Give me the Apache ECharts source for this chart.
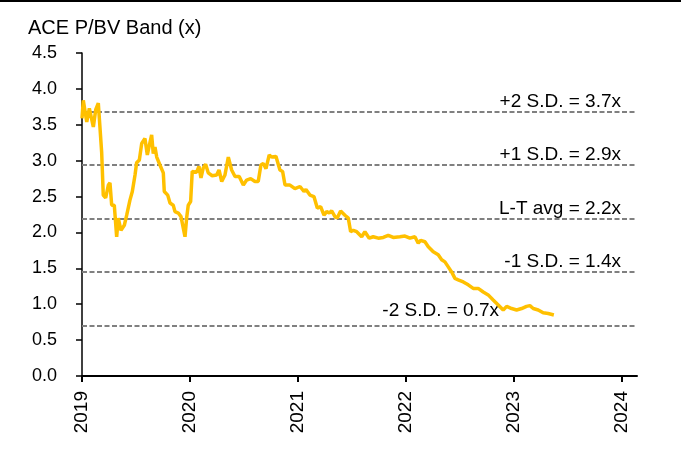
<!DOCTYPE html>
<html>
<head>
<meta charset="utf-8">
<script src="https://cdn.jsdelivr.net/npm/echarts@6/dist/echarts.min.js"></script>
<style>
  html, body { margin: 0; padding: 0; background: #fff; }
  #main { width: 681px; height: 465px; }
</style>
</head>
<body>
<div id="main"></div>
<script>
// 数据：时间（年，小数）与 P/BV
var years = [
  2019.000, 2019.012, 2019.044, 2019.068, 2019.105, 2019.127, 2019.151, 2019.167, 2019.182, 2019.197,
  2019.219, 2019.244, 2019.259, 2019.275, 2019.299, 2019.321, 2019.336, 2019.361, 2019.392, 2019.414,
  2019.444, 2019.466, 2019.491, 2019.506, 2019.531, 2019.553, 2019.583, 2019.605, 2019.620, 2019.645,
  2019.660, 2019.676, 2019.692, 2019.722, 2019.753, 2019.762, 2019.794, 2019.815, 2019.845, 2019.861,
  2019.892, 2019.917, 2019.938, 2019.954, 2019.969, 2019.984, 2020.006, 2020.021, 2020.062, 2020.083,
  2020.102, 2020.123, 2020.145, 2020.169, 2020.206, 2020.247, 2020.269, 2020.294, 2020.324, 2020.355,
  2020.386, 2020.417, 2020.456, 2020.494, 2020.525, 2020.562, 2020.602, 2020.632, 2020.657, 2020.679,
  2020.704, 2020.734, 2020.756, 2020.796, 2020.833, 2020.858, 2020.880, 2020.926, 2020.972, 2021.019,
  2021.056, 2021.074, 2021.111, 2021.148, 2021.179, 2021.210, 2021.241, 2021.266, 2021.290, 2021.312,
  2021.343, 2021.364, 2021.395, 2021.435, 2021.466, 2021.488, 2021.512, 2021.544, 2021.590, 2021.620,
  2021.660, 2021.697, 2021.744, 2021.790, 2021.836, 2021.882, 2021.944, 2021.991, 2022.037, 2022.083,
  2022.114, 2022.136, 2022.176, 2022.207, 2022.253, 2022.299, 2022.331, 2022.361, 2022.392, 2022.423,
  2022.454, 2022.484, 2022.531, 2022.577, 2022.623, 2022.669, 2022.716, 2022.762, 2022.808, 2022.855,
  2022.901, 2022.933, 2022.979, 2023.025, 2023.071, 2023.117, 2023.148, 2023.179, 2023.225, 2023.271,
  2023.318, 2023.370
];
var pbv = [
  3.59, 3.84, 3.54, 3.73, 3.47, 3.71, 3.80, 3.82, 3.12, 2.52,
  2.48, 2.66, 2.69, 2.38, 2.38, 1.94, 2.20, 2.03, 2.10, 2.24,
  2.45, 2.57, 2.80, 2.97, 3.01, 3.24, 3.31, 3.08, 3.19, 3.36,
  3.10, 3.19, 3.05, 2.94, 2.83, 2.57, 2.52, 2.41, 2.38, 2.29,
  2.27, 2.22, 2.06, 1.94, 2.20, 2.38, 2.43, 2.85, 2.84, 2.92,
  2.76, 2.90, 2.95, 2.83, 2.79, 2.80, 2.87, 2.71, 2.80, 3.05,
  2.87, 2.78, 2.78, 2.66, 2.73, 2.75, 2.71, 2.71, 2.94, 2.96,
  2.89, 3.08, 3.05, 3.06, 2.87, 2.85, 2.66, 2.66, 2.61, 2.64,
  2.57, 2.60, 2.52, 2.50, 2.34, 2.36, 2.24, 2.29, 2.27, 2.30,
  2.22, 2.20, 2.30, 2.24, 2.20, 2.01, 2.03, 2.01, 1.94, 2.01,
  1.92, 1.94, 1.92, 1.93, 1.96, 1.93, 1.94, 1.95, 1.92, 1.94,
  1.85, 1.89, 1.87, 1.80, 1.73, 1.69, 1.62, 1.59, 1.52, 1.45,
  1.36, 1.34, 1.31, 1.27, 1.22, 1.22, 1.17, 1.13, 1.06, 0.99,
  0.92, 0.97, 0.94, 0.92, 0.94, 0.97, 0.98, 0.94, 0.92, 0.88,
  0.87, 0.85
];

// 标准差带
var bandValues = [3.68, 2.935, 2.19, 1.445, 0.70];
var bandLabels = ['+2 S.D. = 3.7x', '+1 S.D. = 2.9x', 'L-T avg = 2.2x', '-1 S.D. = 1.4x', '-2 S.D. = 0.7x'];
var yearTicks = [2019, 2020, 2021, 2022, 2023, 2024];

var font = 'Liberation Sans, Arial, sans-serif';

var lineData = [];
for (var i = 0; i < years.length; i++) {
  lineData.push([years[i], pbv[i]]);
}

var markData = [];
for (var j = 0; j < bandValues.length; j++) {
  var last = j == bandValues.length - 1;
  markData.push({
    yAxis: bandValues[j],
    label: {
      show: true,
      formatter: bandLabels[j],
      position: 'insideEndTop',
      distance: last ? [138, 5] : [16, 1],
      color: '#000',
      fontSize: 19,
      fontFamily: font
    }
  });
}

var myChart = echarts.init(document.getElementById('main'), null, {renderer: 'canvas'});

var option = {
  animation: false,
  backgroundColor: '#fff',
  title: {
    text: 'ACE P/BV Band (x)',
    left: 23,
    top: 13,
    textStyle: {fontSize: 20, fontWeight: 'normal', color: '#000', fontFamily: font}
  },
  graphic: [
    {type: 'rect', left: 0, top: 0, shape: {width: 681, height: 2}, style: {fill: '#000'}}
  ],
  grid: {left: 82, top: 53, right: 44, bottom: 89},
  xAxis: {
    type: 'value',
    min: 2019,
    max: 2024.14,
    interval: 1,
    splitLine: {show: false},
    axisLine: {show: true, lineStyle: {color: '#000', width: 2}},
    axisTick: {show: true, length: 6, customValues: yearTicks, lineStyle: {color: '#000', width: 2}},
    axisLabel: {
      customValues: yearTicks,
      rotate: 90,
      margin: 15,
      color: '#000',
      fontSize: 19,
      fontFamily: font,
      formatter: function (v) { return String(Math.round(v)); }
    }
  },
  yAxis: {
    type: 'value',
    min: 0,
    max: 4.5,
    interval: 0.5,
    splitLine: {show: false},
    axisLine: {show: true, lineStyle: {color: '#000', width: 1.5}},
    axisTick: {show: true, length: 6, lineStyle: {color: '#000', width: 1.5}},
    axisLabel: {
      margin: 25,
      color: '#000',
      fontSize: 18,
      fontFamily: font,
      formatter: function (v) { return v.toFixed(1); }
    }
  },
  series: [
    {
      type: 'line',
      data: lineData,
      showSymbol: false,
      symbol: 'none',
      z: 3,
      lineStyle: {color: '#FFC000', width: 3.5},
      markLine: {
        silent: true,
        symbol: ['none', 'none'],
        z: 2,
        lineStyle: {color: '#808080', width: 2, type: [5, 2.5]},
        data: markData
      }
    }
  ]
};

myChart.setOption(option);
</script>
</body>
</html>
